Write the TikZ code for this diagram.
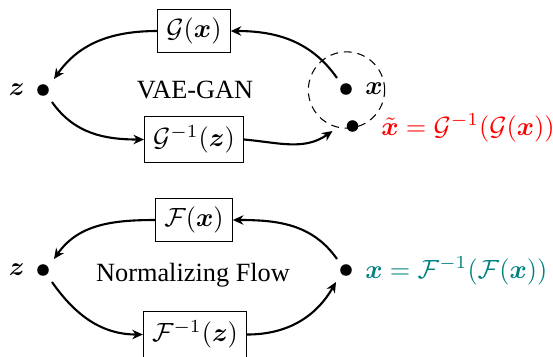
\documentclass[tikz,border=0pt]{standalone}
\usepackage{amsmath,bm}
\usepackage[no-math]{fontspec}
\setmainfont{Liberation Serif}
\usetikzlibrary{arrows.meta}
\begin{document}
\begin{tikzpicture}[x=0.38pt,y=-0.38pt,
  dotnode/.style={circle,fill=black,inner sep=0pt,minimum size=4.4pt},
  fbox/.style={draw,inner sep=3.3pt,line width=0.4pt},
  arr/.style={-{Stealth[length=4pt,width=3.6pt]},line width=0.8pt},
  conn/.style={line width=0.8pt}]
\useasboundingbox (0,0) rectangle (553,356);
\clip (0,0) rectangle (553,356);
% ---- VAE-GAN ----
\node[dotnode] (z1) at (43,90) {};
\node[anchor=east] (z1l) at (34,90) {$\bm{z}$};
\node (t1) at (195,90) {VAE-GAN};
\node[fbox] (gx) at (194,31) {$\mathcal{G}(\bm{x})$};
\node[fbox] (giz) at (194,139.5) {$\mathcal{G}^{-1}(\bm{z})$};
\node[dotnode] (x1) at (346,89) {};
\node[anchor=west] (x1l) at (356,89) {$\bm{x}$};
\coordinate (cc) at (346.5,90);
\draw[dashed,line width=0.4pt,dash pattern=on 3pt off 2.2pt] (cc) circle[radius=14.5pt];
\node[dotnode] (xt) at (352.5,126) {};
\node[anchor=west,text=red] (xtl) at (372,128) {$\tilde{\bm{x}}=\mathcal{G}^{-1}(\mathcal{G}(\bm{x}))$};
\draw[arr] ([shift={(-9,-11)}]x1.center) to[out=125,in=0] (gx.east);
\draw[arr] (gx.west) to[out=180,in=55] ([shift={(11,-11)}]z1.center);
\draw[arr] ([shift={(9,12)}]z1.center) to[out=-55,in=180] (giz.west);
\draw[arr] (giz.east) to[out=-5,in=215] ([shift={(-20,5)}]xt.center);
% ---- Normalizing Flow ----
\node[dotnode] (z2) at (43,270) {};
\node[anchor=east] (z2l) at (34,270) {$\bm{z}$};
\node (t2) at (193,275) {Normalizing Flow};
\node[fbox] (fx) at (194,220) {$\mathcal{F}(\bm{x})$};
\node[fbox] (fiz) at (195,334.5) {$\mathcal{F}^{-1}(\bm{z})$};
\node[dotnode] (x2) at (346,270) {};
\node[anchor=west,text=teal] (x2l) at (356,271) {$\bm{x}=\mathcal{F}^{-1}(\mathcal{F}(\bm{x}))$};
\draw[arr] ([shift={(-9,-11)}]x2.center) to[out=125,in=0] (fx.east);
\draw[arr] (fx.west) to[out=180,in=55] ([shift={(11,-11)}]z2.center);
\draw[arr] ([shift={(9,12)}]z2.center) to[out=-55,in=180] (fiz.west);
\draw[arr] (fiz.east) to[out=0,in=240] ([shift={(-10,12)}]x2.center);
\end{tikzpicture}
\end{document}
